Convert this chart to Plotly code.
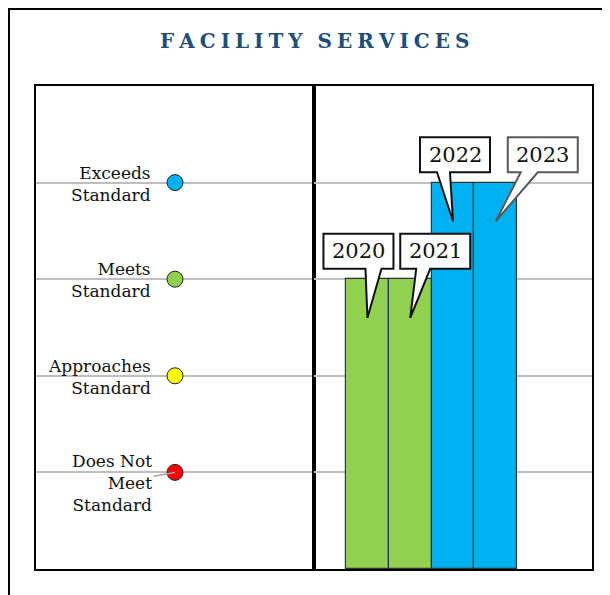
import plotly.graph_objects as go
from plotly.subplots import make_subplots

# --- data ---
LEVEL_LABELS = ["Does Not<br>Meet<br>Standard", "Approaches<br>Standard", "Meets<br>Standard", "Exceeds<br>Standard"]
LEVEL_VALUES = [1, 2, 3, 4]
LEVEL_COLORS = ["#FF0000", "#FFFF00", "#92D050", "#00B0F0"]

YEARS = ["2020", "2021", "2022", "2023"]
YEAR_SCORES = [3, 3, 4, 4]

SERIF = "DejaVu Serif"
GREEN, BLUE = "#92D050", "#00B0F0"

# callout geometry in pixels relative to the tip (box centre dx, wedge base x-range)
CALLOUTS = [(-9, -2, 14), (25, 6, 20), (2, -16, -3), (47, 25, 42)]
BOX_W, BOX_H, BOX_GAP, TIP_DROP = 70, 35, 49, 0.4

# page body adds an 8px offset, so the figure is a bit smaller than the window
W, H = 602, 587
M = dict(l=28, r=18, t=78, b=26)
PW, PH = W - M["l"] - M["r"], H - M["t"] - M["b"]
PLOT_BOTTOM = H - M["b"]

fig = make_subplots(rows=1, cols=2, shared_yaxes=True, horizontal_spacing=0)

# left panel: performance level dots
fig.add_trace(go.Scatter(
    x=[0.5] * len(LEVEL_VALUES), y=LEVEL_VALUES, mode="markers",
    marker=dict(size=16, color=LEVEL_COLORS, line=dict(color="#222", width=1)),
    hoverinfo="skip", showlegend=False), row=1, col=1)

# right panel: bars by year
bar_colors = [BLUE if s >= 4 else GREEN for s in YEAR_SCORES]
fig.add_trace(go.Bar(
    x=list(range(len(YEARS))), y=YEAR_SCORES, width=1,
    marker=dict(color=bar_colors, line=dict(color="#333", width=1.2)),
    hoverinfo="skip", showlegend=False), row=1, col=2)

for val, lab in zip(LEVEL_VALUES, LEVEL_LABELS):
    if val == 1:
        fig.add_annotation(x=0.5, y=val, xref="x", yref="y", text=lab, align="right",
                           showarrow=True, arrowhead=0, arrowcolor="#A6A6A6", arrowwidth=1.5,
                           ax=-63, ay=11, font=dict(family=SERIF, size=17, color="#111"))
    else:
        fig.add_annotation(x=0.5, y=val, xref="x", yref="y", text=lab, align="right",
                           xanchor="right", yanchor="top", xshift=-22, yshift=22,
                           showarrow=False, font=dict(family=SERIF, size=17, color="#111"))

# year callouts
for i, (yr, sc) in enumerate(zip(YEARS, YEAR_SCORES)):
    dx, w0, w1 = CALLOUTS[i]
    tip_y = sc - TIP_DROP
    l, r = dx - BOX_W / 2, dx + BOX_W / 2
    b, t = BOX_GAP, BOX_GAP + BOX_H
    path = (f"M {l},{t} L {r},{t} L {r},{b} L {w1},{b} L 0,0 L {w0},{b} "
            f"L {l},{b} Z")
    edge = "#595959" if i == 3 else "#111"
    fig.add_shape(type="path", path=path, xref="x2", yref="y",
                  xsizemode="pixel", ysizemode="pixel", xanchor=i, yanchor=tip_y,
                  fillcolor="white", line=dict(color=edge, width=2), layer="above")
    fig.add_annotation(x=i, y=tip_y, xref="x2", yref="y", text=yr, showarrow=False,
                       xshift=dx, yshift=b + BOX_H / 2,
                       font=dict(family=SERIF, size=21, color="#111"))

# title, letter-spaced
sp = "\u2005"
title = (sp + "\u2002").join(sp.join(word) for word in ["FACILITY", "SERVICES"])
fig.add_annotation(x=0.5, y=(PLOT_BOTTOM - 33) / PH, xref="paper", yref="paper",
                   xanchor="center", yanchor="middle",
                   showarrow=False, text=f"<b>{title}</b>",
                   font=dict(family=SERIF, size=20, color="#1F4E79"))

# outer frame (runs off the right and bottom edges)
fig.add_shape(type="rect", xref="paper", yref="paper",
              x0=(1 - M["l"]) / PW, x1=1.2, y0=-0.2, y1=(PLOT_BOTTOM - 1) / PH,
              line=dict(color="black", width=2), fillcolor="rgba(0,0,0,0)")

axis_line = dict(showline=True, mirror=True, linecolor="black", linewidth=2,
                 showticklabels=False, ticks="", zeroline=False)
fig.update_xaxes(axis_line, showgrid=False)
fig.update_xaxes(range=[0, 1], row=1, col=1)
fig.update_xaxes(range=[-1.25, 5.25], row=1, col=2)
fig.update_yaxes(axis_line, range=[0, 5], dtick=1, showgrid=True,
                 gridcolor="#BFBFBF", gridwidth=2)

fig.update_layout(width=W, height=H, margin=M,
                  plot_bgcolor="white", paper_bgcolor="white", bargap=0)

fig.write_html("out.html")
